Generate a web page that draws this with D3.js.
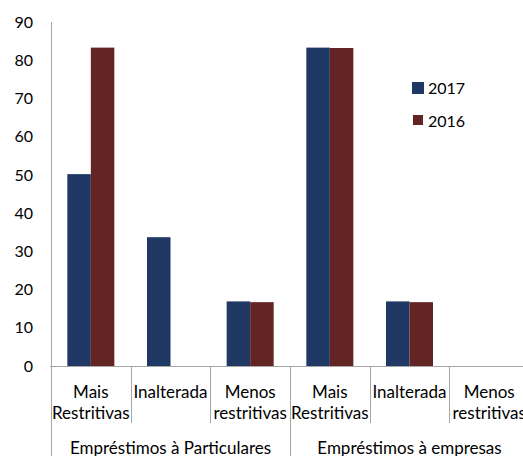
<!DOCTYPE html>
<html>
<head>
<meta charset="utf-8">
<script src="https://cdn.jsdelivr.net/npm/d3@7"></script>
<style>
    body { margin: 0; background: #fff; }
    text { font-family: Lato, "Liberation Sans", sans-serif; font-size: 16px; fill: #000; }
    .lbl { font-size: 17px; }
</style>
</head>
<body>
<svg id="chart" width="523" height="456"></svg>
<script>
var categories = ["Mais|Restritivas", "Inalterada", "Menos|restritivas",
                  "Mais|Restritivas", "Inalterada", "Menos|restritivas"];
var groups = ["Empréstimos à Particulares", "Empréstimos à empresas"];
var seriesNames = ["2017", "2016"];
var values2017 = [50.2, 33.7, 16.9, 83.3, 16.9, 0];
var values2016 = [83.3, 0, 16.7, 83.2, 16.7, 0];
var yTicks = [0, 10, 20, 30, 40, 50, 60, 70, 80, 90];
var colors = ["#203864", "#632523"];

(function groupedBars() {
    var svg = d3.select("#chart");

    var x0 = d3.scaleBand().domain(d3.range(categories.length)).range([51, 529]).padding(0),
        y = d3.scaleLinear().domain([0, 90]).range([366, 22]);

    var bw = x0.bandwidth(),
        inner = 47;
    var x1 = d3.scaleBand().domain(seriesNames).range([(bw - inner) / 2, (bw + inner) / 2]);

    var data = categories.map(function (c, i) {
        return { i: i, vals: [values2017[i], values2016[i]] };
    });

    // bars
    var cat = svg.selectAll(".cat")
        .data(data)
        .enter().append("g")
        .attr("class", "cat")
        .attr("transform", function (d) { return "translate(" + x0(d.i) + ",0)"; });

    cat.selectAll("rect")
        .data(function (d) {
            return d.vals.map(function (v, k) { return { s: seriesNames[k], v: v, k: k }; });
        })
        .enter().append("rect")
        .attr("x", function (d) { return x1(d.s); })
        .attr("y", function (d) { return y(d.v); })
        .attr("width", x1.bandwidth())
        .attr("height", function (d) { return y(0) - y(d.v); })
        .attr("fill", function (d) { return colors[d.k]; });

    // y axis
    var yAxis = svg.append("g")
        .attr("transform", "translate(51,0)")
        .call(d3.axisLeft(y).tickValues(yTicks).tickSize(0).tickPadding(18));
    yAxis.select(".domain").remove();
    yAxis.selectAll("text").style("font-size", "16px").style("font-family", "Lato, sans-serif");

    svg.append("line")
        .attr("x1", 51.5).attr("x2", 51.5)
        .attr("y1", y(90)).attr("y2", 456)
        .attr("stroke", "#a6a6a6");

    svg.append("line")
        .attr("x1", 50).attr("x2", 523)
        .attr("y1", y(0) + 0.5).attr("y2", y(0) + 0.5)
        .attr("stroke", "#a6a6a6");

    // category separators
    d3.range(1, categories.length).forEach(function (i) {
        var xs = Math.round(x0(i)) + 0.5;
        svg.append("line")
            .attr("x1", xs).attr("x2", xs)
            .attr("y1", y(0)).attr("y2", i % 3 === 0 ? 456 : 423)
            .attr("stroke", "#a6a6a6");
    });

    // category labels
    categories.forEach(function (c, i) {
        var lines = c.split("|");
        var t = svg.append("text")
            .attr("class", "lbl")
            .attr("text-anchor", "middle")
            .attr("x", x0(i) + bw / 2)
            .attr("y", 398);
        lines.forEach(function (l, j) {
            t.append("tspan")
                .attr("x", x0(i) + bw / 2)
                .attr("y", 398 + j * 21)
                .text(l);
        });
    });

    // group labels
    groups.forEach(function (g, i) {
        svg.append("text")
            .attr("class", "lbl")
            .attr("text-anchor", "middle")
            .attr("x", (x0(i * 3) + x0(i * 3 + 2) + bw) / 2)
            .attr("y", 454)
            .text(g);
    });

    // legend
    var legend = svg.selectAll(".legend")
        .data(seriesNames)
        .enter().append("g")
        .attr("class", "legend")
        .attr("transform", function (d, i) { return "translate(412," + (82 + i * 33) + ")"; });

    legend.append("rect")
        .attr("x", function (d, i) { return i; })
        .attr("width", function (d, i) { return 12 - 2 * i; })
        .attr("height", function (d, i) { return 12 - 2 * i; })
        .attr("fill", function (d, i) { return colors[i]; });

    legend.append("text")
        .attr("x", 16)
        .attr("y", 12)
        .text(function (d) { return d; });
}());
</script>
</body>
</html>
